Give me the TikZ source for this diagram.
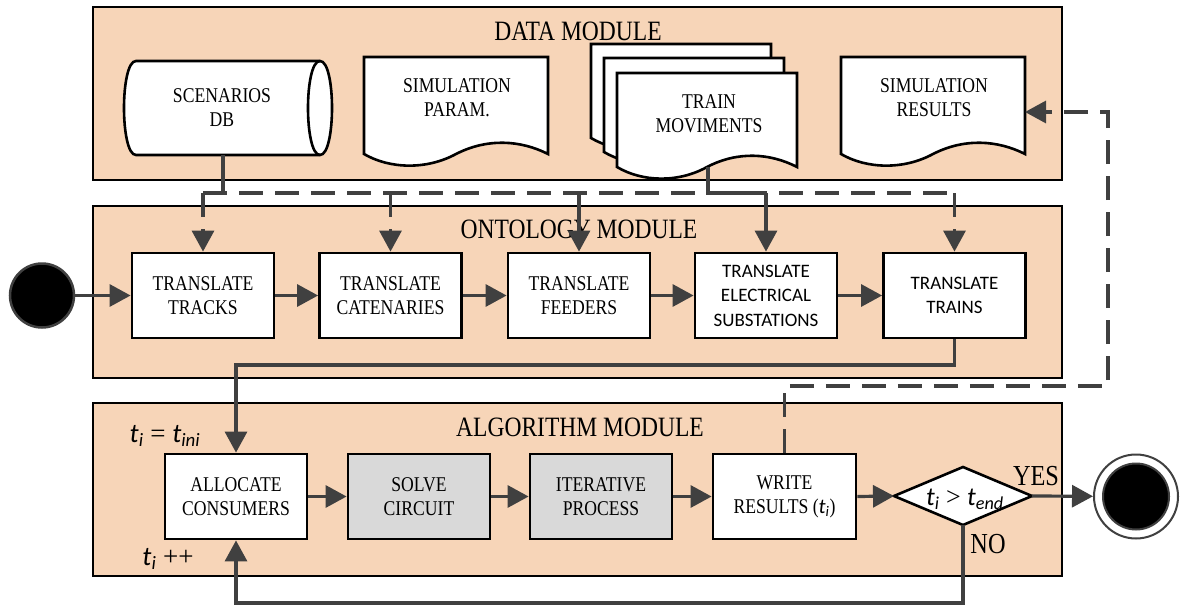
\documentclass[tikz,border=0pt]{standalone}
\usepackage{fontspec}
\setmainfont{Liberation Serif}
\newfontfamily\nserif{Liberation Serif}[FakeStretch=0.84]
\newfontfamily\nsans{Carlito}
\usetikzlibrary{arrows.meta}
\definecolor{peach}{RGB}{247,213,184}
\definecolor{darkconn}{RGB}{64,64,64}
\definecolor{graybox}{RGB}{217,217,217}
\newcommand{\mt}[2]{{\nsans\itshape #1\textsubscript{#2}}}
\newcommand{\docshape}[4]{%
\begin{scope}[shift={(#1,#2)}]
\filldraw[shapeline] (0,0) -- (#3,0) -- (#3,#4)
  .. controls ({0.85*#3},{#4-14}) and ({0.67*#3},{#4-16}) .. ({0.5*#3},#4)
  .. controls ({0.34*#3},{#4+16}) and ({0.14*#3},{#4+15}) .. (0,#4) -- cycle;
\end{scope}}
\tikzset{
 module/.style={draw=black, fill=peach, line width=2.5pt},
 stepbox/.style={draw=black, fill=white, line width=2.8pt, minimum width=142pt, minimum height=85pt, inner sep=0pt, align=center, font=\nserif\fontsize{21}{24}\selectfont},
 graystep/.style={stepbox, fill=graybox},
 sansbox/.style={stepbox, font=\nsans\fontsize{19}{24.5}\selectfont},
 conn/.style={draw=darkconn, line width=3.2pt, -{Triangle[length=21pt,width=22pt]}},
 connplain/.style={draw=darkconn, line width=3.2pt},
 dashconn/.style={conn, dash pattern=on 24pt off 12pt},
 dashplain/.style={connplain, dash pattern=on 24pt off 12pt},
 title/.style={font=\nserif\fontsize{28}{30}\selectfont, inner sep=0pt},
 shapeline/.style={draw=black, fill=white, line width=2.6pt},
 shapetext/.style={align=center, inner sep=0pt, font=\nserif\fontsize{21}{24}\selectfont},
 lbl/.style={inner sep=0pt, font=\fontsize{27}{30}\selectfont},
}
\begin{document}
\begin{tikzpicture}[x=1pt,y=-1pt]
\useasboundingbox (0,0) rectangle (1181,605);
% modules
\draw[module] (93,7) rectangle (1062,180);
\draw[module] (93,206) rectangle (1062,378);
\draw[module] (93,403) rectangle (1062,576);
\node[title] (tdata) at (578,31) {DATA MODULE};
\node[title] (tonto) at (579,229) {ONTOLOGY MODULE};
\node[title] (talgo) at (580,427) {ALGORITHM MODULE};
% scenarios db cylinder
\filldraw[shapeline] (136,61) -- (320,61) .. controls (336,61) and (336,155) .. (320,155)
  -- (136,155) .. controls (120,155) and (120,61) .. (136,61) -- cycle;
\draw[shapeline, fill=none] (320,61) .. controls (304,61) and (304,155) .. (320,155);
\node[shapetext] (db) at (222,108) {SCENARIOS\\DB};
\coordinate (dbbot) at (223,155);
% simulation param
\docshape{364}{57}{184}{97}
\node[shapetext] (simpar) at (457,98) {SIMULATION\\PARAM.};
% train movements
\docshape{591}{44}{180}{94}
\docshape{604}{58}{180}{94}
\docshape{617}{73}{180}{94}
\node[shapetext] (tm) at (709,114) {TRAIN\\MOVIMENTS};
\coordinate (tmbot) at (708,167);
% simulation results
\docshape{841}{57}{184}{97}
\node[shapetext] (simres) at (934,98) {SIMULATION\\RESULTS};
\coordinate (simresR) at (1025,112);
% ontology steps
\node[circle, fill=black, draw=darkconn, line width=2.5pt, minimum size=64pt, inner sep=0pt] (start) at (42,295.5) {};
\node[stepbox] (tracks) at (203,295.5) {TRANSLATE\\TRACKS};
\node[stepbox] (caten) at (390.5,295.5) {TRANSLATE\\CATENARIES};
\node[stepbox] (feed) at (579,295.5) {TRANSLATE\\FEEDERS};
\node[sansbox] (elec) at (766,295.5) {TRANSLATE\\ELECTRICAL\\SUBSTATIONS};
\node[sansbox] (trains) at (954.5,295.5) {TRANSLATE\\TRAINS};
% algorithm steps
\node[stepbox] (alloc) at (236,496.5) {ALLOCATE\\CONSUMERS};
\node[graystep] (solve) at (419,496.5) {SOLVE\\CIRCUIT};
\node[graystep] (iter) at (601,496.5) {ITERATIVE\\PROCESS};
\node[stepbox, minimum width=143pt] (write) at (784.5,496.5) {WRITE\\RESULTS (\mt{t}{i})};
\filldraw[shapeline] (894,496) coordinate (decL) -- (963,467) -- (1032,496) coordinate (decR) -- (963,525) coordinate (decB) -- cycle;
\node[lbl, font=\fontsize{26}{28}\selectfont] (dec) at (965,499) {\mt{t}{i} > \mt{t}{end}};
\node[circle, draw=darkconn, line width=2pt, fill=white, minimum size=84pt, inner sep=0pt] (endo) at (1136,496.5) {};
\node[circle, fill=black, draw=darkconn, line width=2pt, minimum size=66pt, inner sep=0pt] (endi) at (endo) {};
% labels
\node[lbl] (tini) at (165,436) {\mt{t}{i} = \mt{t}{ini}};
\node[lbl] (tpp) at (168,559) {\mt{t}{i} ++};
\node[title, font=\nserif\fontsize{29}{30}\selectfont] (yes) at (1036,476) {YES};
\node[title, font=\nserif\fontsize{29}{30}\selectfont] (no) at (988,544) {NO};
% connectors data -> ontology
\coordinate (busL) at (203,193);
\coordinate (busR) at (954.5,193);
\draw[connplain] (dbbot) -- (dbbot |- busL);
\draw[dashplain] (busL) -- (busR);
\draw[dashconn] (busL) -- (tracks);
\draw[dashconn] (caten |- busL) -- (caten);
\draw[dashconn] (busR) -- (trains);
\draw[conn] (feed |- busL) -- (feed);
\draw[connplain] (tmbot) -- (tmbot |- busL) -- (elec |- busL);
\draw[conn] (elec |- busL) -- (elec);
% ontology chain
\draw[conn] (start) -- (tracks);
\draw[conn] (tracks) -- (caten);
\draw[conn] (caten) -- (feed);
\draw[conn] (feed) -- (elec);
\draw[conn] (elec) -- (trains);
% to algorithm
\coordinate (ret) at (954.5,365);
\draw[conn] (trains.south) -- (ret) -| (alloc.north);
% algorithm chain
\draw[conn] (alloc) -- (solve);
\draw[conn] (solve) -- (iter);
\draw[conn] (iter) -- (write);
\draw[conn] (write.east) -- (decL);
\draw[conn] (decR) -- (endo);
\coordinate (loop) at (963,603);
\draw[conn] (decB) -- (loop) -| (alloc.south);
% feedback to results
\coordinate (fb) at (1108,386);
\draw[dashconn] (write.north) -- (write.north |- fb) -- (fb) -- (fb |- simresR) -- (simresR);
\end{tikzpicture}
\end{document}
